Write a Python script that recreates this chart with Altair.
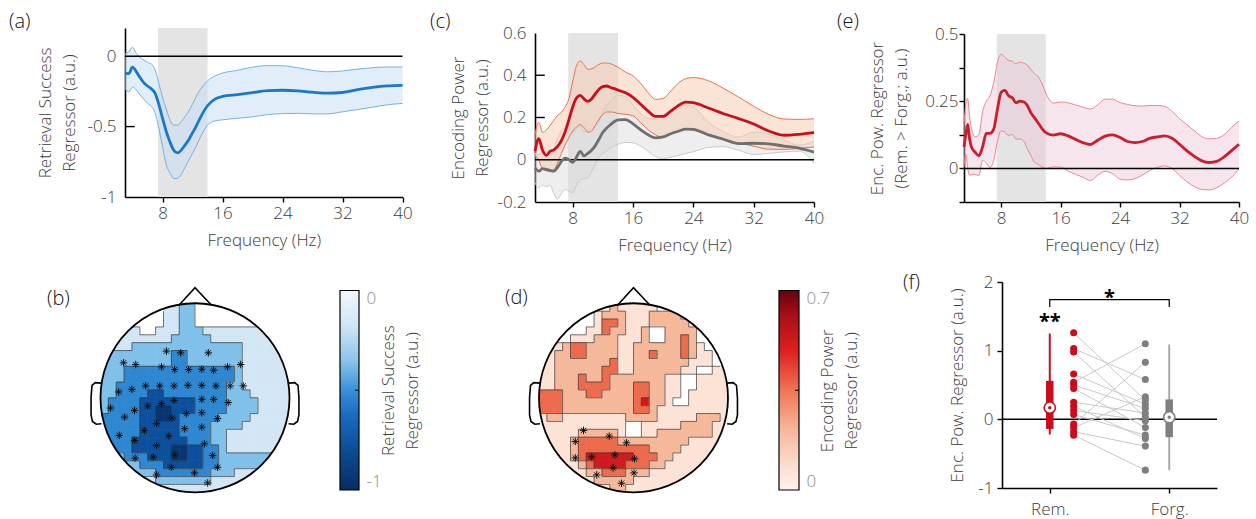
import altair as alt
import pandas as pd

W, H = 1256, 519
FONT = "Open Sans"
INK = "#3c3c3c"
FS = 17

# ---------------- (a) retrieval success regressor ----------------
freq_a = [3, 3.5, 4, 4.5, 5, 5.5, 6, 6.5, 7, 7.5, 8, 8.5, 9, 9.5, 10, 10.5, 11, 11.5, 12, 12.5, 13,
          14, 15, 16, 18, 20, 22, 24, 26, 28, 30, 32, 34, 36, 38, 40]
mean_a = [-0.12, -0.124, -0.078, -0.11, -0.152, -0.188, -0.212, -0.232, -0.262, -0.34, -0.44, -0.535,
          -0.61, -0.668, -0.687, -0.667, -0.632, -0.593, -0.545, -0.496, -0.441, -0.352, -0.305, -0.286,
          -0.273, -0.259, -0.244, -0.242, -0.246, -0.256, -0.263, -0.258, -0.238, -0.222, -0.211, -0.207]
hi_a = [0.016, 0.03, 0.063, 0.02, -0.008, -0.028, -0.044, -0.055, -0.095, -0.19, -0.29, -0.375, -0.453,
        -0.49, -0.49, -0.465, -0.43, -0.39, -0.34, -0.285, -0.24, -0.175, -0.14, -0.12, -0.1, -0.078,
        -0.067, -0.068, -0.082, -0.1, -0.111, -0.105, -0.092, -0.082, -0.077, -0.077]
lo_a = [-0.23, -0.254, -0.22, -0.24, -0.275, -0.305, -0.335, -0.357, -0.4, -0.51, -0.64, -0.77, -0.829,
        -0.868, -0.868, -0.84, -0.79, -0.74, -0.69, -0.64, -0.58, -0.49, -0.46, -0.452, -0.441, -0.431,
        -0.415, -0.408, -0.406, -0.41, -0.41, -0.395, -0.38, -0.362, -0.345, -0.336]

# ---------------- (c) encoding power regressor ----------------
freq_c = [3, 3.5, 4, 4.5, 5, 5.5, 6, 6.5, 7, 7.5, 8, 8.5, 9, 9.5, 10, 10.5, 11, 11.5, 12, 12.5, 13, 13.5, 14,
          15, 16, 17, 18, 19, 20, 21, 22, 23, 24, 26, 28, 30, 32, 34, 36, 38, 40]
rem_c = [0.04, 0.1, 0.045, 0.021, 0.04, 0.047, 0.063, 0.09, 0.133, 0.19, 0.25, 0.292, 0.305, 0.288, 0.276,
         0.288, 0.312, 0.334, 0.346, 0.349, 0.342, 0.337, 0.33,
         0.317, 0.295, 0.263, 0.23, 0.205, 0.205, 0.23, 0.256, 0.273, 0.27,
         0.245, 0.218, 0.195, 0.169, 0.136, 0.116, 0.12, 0.128]
rem_hi_c = [0.12, 0.178, 0.13, 0.14, 0.163, 0.187, 0.21, 0.225, 0.25, 0.29, 0.37, 0.445, 0.467, 0.45, 0.428,
            0.43, 0.44, 0.452, 0.458, 0.458, 0.455, 0.447, 0.438,
            0.415, 0.397, 0.362, 0.318, 0.286, 0.29, 0.325, 0.362, 0.384, 0.389,
            0.374, 0.338, 0.297, 0.253, 0.215, 0.193, 0.191, 0.194]
rem_lo_c = [0.017, 0.0, -0.045, -0.052, -0.054, -0.048, -0.015, 0.03, 0.07, 0.105, 0.135, 0.155, 0.166, 0.152,
            0.13, 0.135, 0.163, 0.192, 0.215, 0.226, 0.226, 0.224, 0.219,
            0.215, 0.208, 0.176, 0.142, 0.118, 0.105, 0.12, 0.137, 0.147, 0.14,
            0.116, 0.097, 0.08, 0.064, 0.05, 0.049, 0.054, 0.06]
forg_c = [-0.038, -0.054, -0.042, -0.046, -0.051, -0.054, -0.035, -0.008, 0.008, 0.0, -0.012, 0.012, 0.04,
          0.018, 0.03, 0.045, 0.067, 0.098, 0.13, 0.15, 0.166, 0.18, 0.189,
          0.19, 0.17, 0.142, 0.118, 0.104, 0.108, 0.123, 0.135, 0.145, 0.144,
          0.118, 0.097, 0.076, 0.078, 0.075, 0.065, 0.055, 0.036]
forg_lo_c = [-0.11, -0.133, -0.12, -0.128, -0.12, -0.16, -0.185, -0.16, -0.14, -0.15, -0.155, -0.12, -0.094,
             -0.09, -0.086, -0.055, -0.02, 0.015, 0.03, 0.042, 0.055, 0.065, 0.073,
             0.082, 0.08, 0.065, 0.04, 0.015, 0.005, 0.012, 0.02, 0.03, 0.038,
             0.058, 0.062, 0.045, 0.025, 0.03, 0.037, 0.041, -0.015]
forg_hi_c = [0.03, 0.025, 0.035, 0.035, 0.02, 0.05, 0.1, 0.14, 0.15, 0.15, 0.13, 0.145, 0.17, 0.13, 0.145,
             0.145, 0.155, 0.18, 0.23, 0.26, 0.277, 0.295, 0.305,
             0.298, 0.26, 0.22, 0.196, 0.193, 0.211, 0.234, 0.25, 0.26, 0.25,
             0.178, 0.132, 0.107, 0.131, 0.12, 0.093, 0.069, 0.087]

# ---------------- (e) Rem > Forg difference ----------------
freq_e = [3, 3.25, 3.5, 3.75, 4, 4.5, 5, 5.5, 6, 6.5, 7, 7.5, 8, 8.5, 9, 9.5, 10, 10.5, 11, 11.5, 12, 12.5,
          13, 13.5, 14, 15, 16, 17, 18, 19, 20, 21, 22, 23, 24, 25, 26, 27, 28, 29, 30, 31, 32, 33, 34, 35,
          36, 37, 38, 39, 40]
mean_e = [0.08, 0.127, 0.164, 0.11, 0.08, 0.06, 0.047, 0.08, 0.13, 0.13, 0.146, 0.22, 0.283, 0.29, 0.27,
          0.263, 0.244, 0.25, 0.248, 0.235, 0.207, 0.188, 0.168, 0.148, 0.133,
          0.124, 0.129, 0.121, 0.108, 0.096, 0.089, 0.105, 0.12, 0.125, 0.115, 0.1, 0.096, 0.1, 0.112,
          0.117, 0.121, 0.112, 0.09, 0.065, 0.045, 0.028, 0.022, 0.026, 0.043, 0.066, 0.09]
hi_e = [0.164, 0.24, 0.26, 0.19, 0.15, 0.118, 0.125, 0.21, 0.25, 0.27, 0.32, 0.395, 0.425, 0.413, 0.402,
        0.399, 0.389, 0.395, 0.392, 0.385, 0.368, 0.352, 0.34, 0.315, 0.28,
        0.243, 0.247, 0.244, 0.236, 0.228, 0.221, 0.237, 0.258, 0.257, 0.245, 0.238, 0.233, 0.232, 0.234,
        0.234, 0.231, 0.212, 0.185, 0.162, 0.14, 0.118, 0.11, 0.112, 0.125, 0.152, 0.177]
lo_e = [0.004, 0.053, 0.0, -0.025, -0.024, -0.022, -0.027, 0.03, 0.02, 0.004, 0.03, 0.1, 0.14, 0.135, 0.122,
        0.127, 0.109, 0.109, 0.103, 0.074, 0.047, 0.022, 0.015, 0.005, 0.0,
        0.006, 0.005, -0.01, -0.022, -0.033, -0.045, -0.025, -0.011, -0.02, -0.04, -0.043, -0.038, -0.025,
        -0.008, 0.004, 0.009, 0.0, -0.026, -0.05, -0.068, -0.078, -0.08, -0.072, -0.055, -0.033, -0.002]

alpha_band = [7.4, 14.0]

# ---------------- (f) per-subject alpha regressor ----------------
rem_vals = [1.26, 1.03, 0.98, 0.66, 0.54, 0.5, 0.45, 0.25, 0.19, 0.13, 0.07, -0.07, -0.12, -0.18, -0.23]
forg_vals = [0.28, 0.58, 0.03, 0.22, 1.1, 0.16, -0.12, 0.09, -0.28, -0.02, -0.23, 0.83, 0.33, -0.39, -0.74]
rem_box = {"wlo": -0.22, "q1": -0.14, "med": 0.17, "q3": 0.56, "whi": 1.25}
forg_box = {"wlo": -0.74, "q1": -0.26, "med": 0.03, "q3": 0.29, "whi": 1.09}
sig_marks = ["**", "*"]
sig_x = [0.0, 0.5]
sig_y = [1.49, 1.84]
bracket_y = [1.635, 1.742]

# ---------------- (b) / (d) topographies: contour level per cell ----------------
topo_b = [
    "000000001122000000000000",
    "000000001122000000000000",
    "000000001122000000000000",
    "000110011122211111111100",
    "001111111222221111111100",
    "011122222222222222111110",
    "022222222332222222111111",
    "222222222332222222111111",
    "222333333333333332111111",
    "222333333333333332111111",
    "223333333333333322111111",
    "223333443333333322211111",
    "233334444444333322221111",
    "233334455444333322221111",
    "333334455433333222211111",
    "333334444433332222111111",
    "333334444433332211111111",
    "333344444443332211111111",
    "333344444554433211111111",
    "222333444554433222222222",
    "222223334444433222222222",
    "222222233333332221111111",
    "111111122222221111111111",
    "111111111111111111111111",
]
topo_d = [
    "000000000211111000000000",
    "000000012221112222000000",
    "000000013321112222210000",
    "000000113221120022220000",
    "000011122211120022320000",
    "011233222211222222321000",
    "112233222211223222321100",
    "112222222311222222211100",
    "112222223311222222110011",
    "112223223222222211001111",
    "112223333222332211001111",
    "333222332222332211011111",
    "333222222222342210011111",
    "333222222222332111111111",
    "122111111112222111112221",
    "111111111110011111222211",
    "111112222210011222222211",
    "111123333322222222211111",
    "111123333333332222111111",
    "111123444444333221111111",
    "111112344443332211111111",
    "111111223332221111111111",
    "111111122222111111111111",
    "111111111221111111111111",
]
elec_b_u = [-0.302, -0.152, 0.141, -0.756, -0.627, -0.354, -0.215, -0.068, 0.072, 0.197, 0.344, 0.483,
            -0.808, -0.668, -0.522, -0.372, -0.222, -0.075, 0.072, 0.222, 0.372, 0.511,
            -0.895, -0.64, -0.501, -0.354, -0.222, 0.072, 0.197, 0.351,
            -0.745, -0.407, -0.243, -0.092, 0.072, 0.239,
            -0.801, -0.64, -0.536, -0.407, -0.277, -0.11, 0.072, 0.099,
            -0.634, -0.442, -0.215, 0.187, -0.25, -0.005, 0.239, -0.407, 0.134]
elec_b_v = [0.494, 0.476, 0.476, 0.37, 0.352, 0.327, 0.299, 0.299, 0.303, 0.292, 0.327, 0.352,
            0.062, 0.09, 0.126, 0.126, 0.126, 0.133, 0.133, 0.126, 0.126, 0.126,
            -0.108, -0.133, -0.087, -0.062, -0.027, -0.016, -0.016, -0.051,
            -0.204, -0.274, -0.214, -0.168, -0.158, -0.221,
            -0.398, -0.451, -0.345, -0.504, -0.405, -0.327, -0.31, -0.487,
            -0.639, -0.628, -0.604, -0.611, -0.735, -0.795, -0.735, -0.816, -0.901]
elec_d_u = [-0.529, -0.616, -0.257, -0.075, -0.616, -0.442, -0.197, 0.012, -0.215, -0.389, 0.005, -0.127]
elec_d_v = [-0.345, -0.462, -0.405, -0.476, -0.636, -0.625, -0.604, -0.646, -0.742, -0.816, -0.795, -0.904]

# head outline geometry (unit-circle head)
nose_u = [-0.165, 0.0, 0.17]
nose_v = [0.985, 1.165, 0.985]
ear_u = [-0.99, -1.055, -1.09, -1.1, -1.1, -1.085, -1.045, -0.99]
ear_v = [0.155, 0.16, 0.13, 0.0, -0.18, -0.25, -0.28, -0.275]

# ---------------- layout (pixels) ----------------
A_X, A_Y = [125, 402.5], [197, 28]
C_X, C_Y = [535, 814], [202, 33]
E_X, E_Y = [964, 1239], [202, 34]
F_X, F_Y = [1002, 1217], [488, 282]
B_U, D_U, TOPO_V = [100.5, 289.5], [539, 728], [492.3, 303.3]
CB_Y = [490, 290.5]

BLUE_LV = ["#ffffff", "#d3e6f5", "#7fc1ea", "#2e87d1", "#0c4f9c", "#083470"]
RED_LV = ["#ffffff", "#fde3d6", "#f6b89a", "#ec6b4c", "#cf1a1e"]
RED = "#cc0c1c"
GREY = "#7f7f7f"
BAND = "#e4e4e4"
LW = 300

AX = dict(labelFont=FONT, labelFontSize=FS, labelColor=INK, labelFontWeight=LW, titleFont=FONT,
          titleFontSize=FS, titleFontWeight=LW, titleColor=INK, domainColor="black", domainWidth=1.6,
          tickColor="black", tickWidth=1.4, grid=False)


def sc(dom, rng):
    return alt.Scale(domain=list(dom), range=list(rng), nice=False, zero=False)


def x_freq_axis(ypix):
    return alt.Axis(orient="bottom", offset=ypix - H, values=[8, 16, 24, 32, 40], tickSize=5,
                    labelPadding=3, labelFlush=False, title="Frequency (Hz)", titleBaseline="top",
                    titleY=35, **AX)


def y_left_axis(xpix, values, title, first_line_x, tcy, ticks, expr, pad):
    return alt.Axis(orient="left", offset=-xpix, values=values, labelExpr=expr, ticks=ticks, tickSize=5,
                    labelPadding=pad, labelFlush=False, title=title, titleX=first_line_x - xpix, titleY=tcy,
                    titleAlign="center", titleBaseline="middle", titleAngle=270, titleLineHeight=24, **AX)


layers = []


def freq_panel(xr, yr, ydom, freqs, series, xaxis, yaxis, inward):
    """series: list of (mean, lo, hi, line_color, edge_color, fill_color, fill_opacity)"""
    xdom = [3, 40]
    band = pd.DataFrame({"f0": [alpha_band[0]], "f1": [alpha_band[1]], "y0": [ydom[0]], "y1": [ydom[1]]})
    layers.append(alt.Chart(band).mark_rect(color=BAND).encode(
        x=alt.X("f0:Q", scale=sc(xdom, xr), axis=None), x2="f1",
        y=alt.Y("y0:Q", scale=sc(ydom, yr), axis=None), y2="y1"))
    for (m, lo, hi, lc, ec, fc, fo) in series:
        df = pd.DataFrame({"f": freqs, "m": m, "lo": lo, "hi": hi})
        layers.append(alt.Chart(df).mark_area(color=fc, opacity=fo, interpolate="monotone").encode(
            x=alt.X("f:Q", scale=sc(xdom, xr), axis=None),
            y=alt.Y("lo:Q", scale=sc(ydom, yr), axis=None), y2="hi"))
        for col in ["lo", "hi"]:
            layers.append(alt.Chart(df).mark_line(color=ec, strokeWidth=1, interpolate="monotone").encode(
                x=alt.X("f:Q", scale=sc(xdom, xr), axis=None),
                y=alt.Y(f"{col}:Q", scale=sc(ydom, yr), axis=None)))
    zero = pd.DataFrame({"f0": [3], "f1": [40], "y": [0]})
    layers.append(alt.Chart(zero).mark_rule(color="black", strokeWidth=1.5).encode(
        x=alt.X("f0:Q", scale=sc(xdom, xr), axis=None), x2="f1",
        y=alt.Y("y:Q", scale=sc(ydom, yr), axis=None)))
    if inward:
        tk = pd.DataFrame({"f0": [3] * len(inward), "f1": [4.3] * len(inward), "y": inward})
        layers.append(alt.Chart(tk).mark_rule(color="black", strokeWidth=1.4).encode(
            x=alt.X("f0:Q", scale=sc(xdom, xr), axis=None), x2="f1",
            y=alt.Y("y:Q", scale=sc(ydom, yr), axis=None)))
    for k, (m, lo, hi, lc, ec, fc, fo) in enumerate(series):
        df = pd.DataFrame({"f": freqs, "m": m})
        last = k == len(series) - 1
        layers.append(alt.Chart(df).mark_line(color=lc, strokeWidth=2.8, interpolate="monotone").encode(
            x=alt.X("f:Q", scale=sc(xdom, xr), axis=xaxis if last else None),
            y=alt.Y("m:Q", scale=sc(ydom, yr), axis=yaxis if last else None)))


# (a)
freq_panel(A_X, A_Y, [-1, 0.2], freq_a,
           [(mean_a, lo_a, hi_a, "#1a78c6", "#74b3e4", "#c4dbf2", 0.5)],
           x_freq_axis(A_Y[0]),
           y_left_axis(A_X[0], [-1, -0.5, 0], ["Retrieval Success", "Regressor (a.u.)"], 45,
                       (A_Y[0] + A_Y[1]) / 2, False, "'' + datum.value", 9),
           [-0.5])
# (c)
freq_panel(C_X, C_Y, [-0.2, 0.6], freq_c,
           [(forg_c, forg_lo_c, forg_hi_c, "#6f6f6f", "#c9c9c9", "#d9d9d9", 0.45),
            (rem_c, rem_lo_c, rem_hi_c, RED, "#ef7050", "#f5c9ae", 0.5)],
           x_freq_axis(C_Y[0]),
           y_left_axis(C_X[0], [-0.2, 0, 0.2, 0.4, 0.6], ["Encoding Power", "Regressor (a.u.)"], 458,
                       (C_Y[0] + C_Y[1]) / 2, False, "'' + datum.value", 9),
           [0.2, 0.4])
# (e)
freq_panel(E_X, E_Y, [-0.125, 0.5], freq_e,
           [(mean_e, lo_e, hi_e, "#c81e2e", "#e88993", "#ebc6d4", 0.45)],
           x_freq_axis(E_Y[0]),
           y_left_axis(E_X[0], [-0.125, 0, 0.125, 0.25, 0.375, 0.5],
                       ["Enc. Pow. Regressor", "(Rem. > Forg.; a.u.)"], 877, (E_Y[0] + E_Y[1]) / 2, True,
                       "(datum.value == 0 || datum.value == 0.25 || datum.value == 0.5) ? '' + datum.value : ''",
                       1),
           None)

# (f)
FXD, FYD = [-0.4, 1.4], [-1, 2]


def fx(field="x"):
    return alt.X(f"{field}:Q", scale=sc(FXD, F_X), axis=None)


def fy(field="v"):
    return alt.Y(f"{field}:Q", scale=sc(FYD, F_Y), axis=None)


layers.append(alt.Chart(pd.DataFrame({"x0": [-0.4], "x1": [1.4], "v": [0]})).mark_rule(
    color="black", strokeWidth=1.5).encode(x=fx("x0"), x2="x1", y=fy()))
pairs = pd.DataFrame({
    "s": list(range(len(rem_vals))) * 2,
    "x": [0.2] * len(rem_vals) + [0.8] * len(forg_vals),
    "v": rem_vals + forg_vals,
})
layers.append(alt.Chart(pairs).mark_line(color="#c9c9c9", strokeWidth=1).encode(
    x=fx(), y=fy(), detail="s:N"))
layers.append(alt.Chart(pd.DataFrame({"x": [0.2] * len(rem_vals), "v": rem_vals})).mark_circle(
    color=RED, size=50, opacity=1).encode(x=fx(), y=fy()))
layers.append(alt.Chart(pd.DataFrame({"x": [0.8] * len(forg_vals), "v": forg_vals})).mark_circle(
    color=GREY, size=50, opacity=1).encode(x=fx(), y=fy()))
for xpos, bx, wc, bc in [(0, rem_box, RED, RED), (1, forg_box, "#a9a9a9", GREY)]:
    d = pd.DataFrame({"x": [xpos], **{k: [v] for k, v in bx.items()}})
    layers.append(alt.Chart(d).mark_rule(color=wc, strokeWidth=2).encode(x=fx(), y=fy("wlo"), y2="whi"))
    layers.append(alt.Chart(d).mark_rule(color=bc, strokeWidth=7.5, strokeCap="butt").encode(
        x=fx(), y=fy("q1"), y2="q3"))
    layers.append(alt.Chart(d).mark_point(shape="circle", filled=True, fill="white", stroke=bc,
                                          strokeWidth=1.6, size=125, opacity=1).encode(x=fx(), y=fy("med")))
    layers.append(alt.Chart(d).mark_circle(color=bc, size=12, opacity=1).encode(x=fx(), y=fy("med")))
br = pd.DataFrame({"x": [0, 0, 1, 1], "v": [bracket_y[0], bracket_y[1], bracket_y[1], bracket_y[0]],
                   "k": [0, 1, 2, 3]})
layers.append(alt.Chart(br).mark_line(color="black", strokeWidth=1.2).encode(x=fx(), y=fy(), order="k:Q"))
layers.append(alt.Chart(pd.DataFrame({"t": sig_marks, "x": sig_x, "v": sig_y})).mark_text(
    font=FONT, fontSize=20, fontWeight="bold", color="black", baseline="alphabetic", dy=11).encode(
    x=fx(), y=fy(), text="t:N"))
# axes for (f)
layers.append(alt.Chart(pd.DataFrame({"x": [0], "v": [0]})).mark_point(opacity=0).encode(
    x=alt.X("x:Q", scale=sc(FXD, F_X),
            axis=alt.Axis(orient="bottom", offset=F_Y[0] - H, values=[0, 1], tickSize=5, labelPadding=8,
                          labelFlush=False, labelExpr="datum.value == 0 ? 'Rem.' : 'Forg.'", title=None, **AX)),
    y=alt.Y("v:Q", scale=sc(FYD, F_Y),
            axis=y_left_axis(F_X[0], [-1, 0, 1, 2], "Enc. Pow. Regressor (a.u.)", 957,
                             (F_Y[0] + F_Y[1]) / 2, True, "'' + datum.value", 4))))


# topographies
ASTER = "M-1,0L1,0M0,-1L0,1M-0.7,-0.7L0.7,0.7M-0.7,0.7L0.7,-0.7"


def topo(grid, colors, ur, eu, ev):
    n = len(grid)
    rows, segs = [], []
    for j, line in enumerate(grid):
        assert len(line) == n
        for i, ch in enumerate(line):
            u0 = -1 + 2 * i / n
            u1 = u0 + 2 / n
            v1 = 1 - 2 * j / n
            v0 = v1 - 2 / n
            cu = min(max(0.0, u0), u1)
            cv = min(max(0.0, v0), v1)
            if cu * cu + cv * cv < 1:
                rows.append({"u0": u0, "u1": u1, "v0": v0, "v1": v1, "lvl": ch})
            # boundaries between neighbouring levels (contour lines)
            if i + 1 < n and grid[j][i + 1] != ch:
                mu, mv = u1, (v0 + v1) / 2
                if mu * mu + mv * mv < 1.02:
                    segs.append({"ua": u1, "ub": u1, "va": v0, "vb": v1})
            if j + 1 < n and grid[j + 1][i] != ch:
                mu, mv = (u0 + u1) / 2, v0
                if mu * mu + mv * mv < 1.02:
                    segs.append({"ua": u0, "ub": u1, "va": v0, "vb": v0})
    cells = pd.DataFrame(rows)
    dom = [str(k) for k in range(len(colors))]
    U0 = alt.X("u0:Q", scale=sc([-1, 1], ur), axis=None)
    V0 = alt.Y("v0:Q", scale=sc([-1, 1], TOPO_V), axis=None)
    layers.append(alt.Chart(cells).mark_rect(strokeWidth=0.7).encode(
        x=U0, x2="u1", y=V0, y2="v1",
        fill=alt.Fill("lvl:N", scale=alt.Scale(domain=dom, range=colors), legend=None),
        stroke=alt.Stroke("lvl:N", scale=alt.Scale(domain=dom, range=colors), legend=None)))
    layers.append(alt.Chart(pd.DataFrame(segs)).mark_rule(color="#3a3a3a", strokeWidth=0.7).encode(
        x=alt.X("ua:Q", scale=sc([-1, 1], ur), axis=None), x2="ub",
        y=alt.Y("va:Q", scale=sc([-1, 1], TOPO_V), axis=None), y2="vb"))
    r = (ur[1] - ur[0]) / 2
    ctr = pd.DataFrame({"u": [0], "v": [0]})
    U = alt.X("u:Q", scale=sc([-1, 1], ur), axis=None)
    V = alt.Y("v:Q", scale=sc([-1, 1], TOPO_V), axis=None)
    layers.append(alt.Chart(ctr).mark_point(shape="circle", filled=False, stroke="white", strokeWidth=18,
                                            size=(2 * (r + 9.5)) ** 2, opacity=1).encode(x=U, y=V))
    layers.append(alt.Chart(ctr).mark_point(shape="circle", filled=False, stroke="black", strokeWidth=1.8,
                                            size=(2 * r) ** 2, opacity=1).encode(x=U, y=V))
    outline = pd.DataFrame({
        "part": ["nose"] * 3 + ["earL"] * len(ear_u) + ["earR"] * len(ear_u),
        "k": list(range(3)) + list(range(len(ear_u))) * 2,
        "u": nose_u + ear_u + [-x for x in ear_u],
        "v": nose_v + ear_v + ear_v,
    })
    layers.append(alt.Chart(outline).mark_line(color="black", strokeWidth=1.6).encode(
        x=U, y=V, detail="part:N", order="k:Q"))
    layers.append(alt.Chart(pd.DataFrame({"u": eu, "v": ev})).mark_point(
        shape=ASTER, filled=False, stroke="#111111", strokeWidth=1, size=56, opacity=1).encode(x=U, y=V))


topo(topo_b, BLUE_LV, B_U, elec_b_u, elec_b_v)
topo(topo_d, RED_LV, D_U, elec_d_u, elec_d_v)


def colorbar(x0, x1, dom, stops, labels_expr, title, first_line_x):
    grad = {"gradient": "linear", "x1": 0, "y1": 0, "x2": 0, "y2": 1,
            "stops": [{"offset": o, "color": c} for o, c in stops]}
    d = pd.DataFrame({"lo": [dom[0]], "hi": [dom[1]]})
    layers.append(alt.Chart(d).mark_rect(fill=grad, stroke="black", strokeWidth=1.2).encode(
        x=alt.value(x0), x2=alt.value(x1),
        y=alt.Y("lo:Q", scale=sc(dom, CB_Y),
                axis=alt.Axis(orient="right", offset=x1 - W, values=list(dom), ticks=False, domain=False,
                              labelPadding=7, labelFlush=True, labelFlushOffset=0, labelExpr=labels_expr,
                              title=title, titleAngle=270, titleX=first_line_x - x1,
                              titleY=(CB_Y[0] + CB_Y[1]) / 2, titleAlign="center", titleBaseline="middle",
                              titleLineHeight=24, labelFont=FONT, labelFontSize=FS, labelFontWeight=LW,
                              labelColor="#8a8a8a", titleFont=FONT, titleFontSize=FS, titleFontWeight=LW,
                              titleColor=INK, grid=False)),
        y2="hi"))
    mid = pd.DataFrame({"y": [(dom[0] + dom[1]) / 2]})
    layers.append(alt.Chart(mid).mark_rule(color="black", strokeWidth=1).encode(
        x=alt.value(x1 - 4), x2=alt.value(x1), y=alt.Y("y:Q", scale=sc(dom, CB_Y), axis=None)))


colorbar(340, 359, [-1, 0],
         [(0, "#f2f7fd"), (0.18, "#cfe4f6"), (0.35, "#8cc4ea"), (0.5, "#3a90d8"), (0.62, "#1a6cc3"),
          (0.8, "#0d4d97"), (1, "#082c62")],
         "'' + datum.value", ["Retrieval Success", "Regressor (a.u.)"], 388)
colorbar(779, 799, [0, 0.7],
         [(0, "#67000d"), (0.12, "#a50f18"), (0.3, "#dd1f20"), (0.5, "#ef7457"), (0.7, "#f7b79c"),
          (0.87, "#fcdccd"), (1, "#fdf2ec")],
         "'' + datum.value", ["Encoding Power", "Regressor (a.u.)"], 827)

# panel letters
for txt, px, py in [("(a)", 9, 22), ("(c)", 430, 22), ("(e)", 837, 22), ("(b)", 47, 299),
                    ("(d)", 505, 298), ("(f)", 903, 283)]:
    layers.append(alt.Chart(pd.DataFrame({"t": [txt]})).mark_text(
        font=FONT, fontSize=20, fontWeight=LW, color="#111111", align="left", baseline="middle").encode(
        text="t:N", x=alt.value(px), y=alt.value(py)))

chart = alt.layer(*layers).resolve_scale(
    x="independent", y="independent", fill="independent", stroke="independent"
).properties(
    width=W, height=H, autosize=alt.AutoSizeParams(type="none"), padding=0, background="white"
).configure_view(stroke=None)

chart.save("out.html", embed_options={"renderer": "svg", "actions": False})
